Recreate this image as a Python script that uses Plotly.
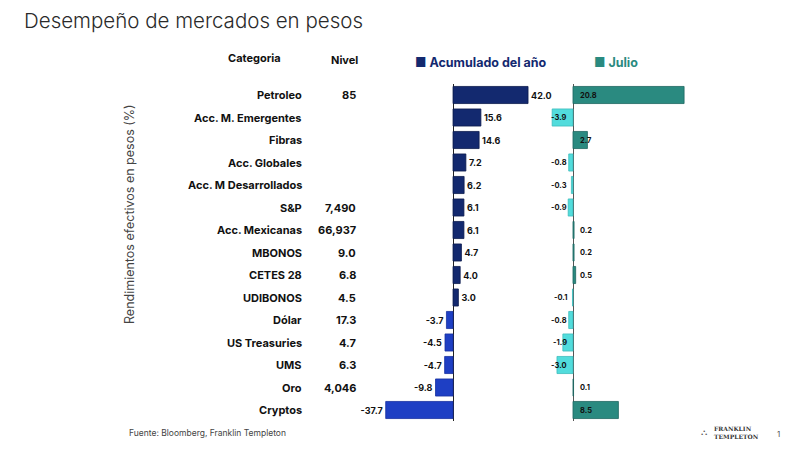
import plotly.graph_objects as go

categorias = ["Petroleo", "Acc. M. Emergentes", "Fibras", "Acc. Globales", "Acc. M Desarrollados",
              "S&P", "Acc. Mexicanas", "MBONOS", "CETES 28", "UDIBONOS", "Dólar",
              "US Treasuries", "UMS", "Oro", "Cryptos"]
nivel = ["85", "", "", "", "", "7,490", "66,937", "9.0", "6.8", "4.5", "17.3", "4.7", "6.3", "4,046", ""]
acumulado = [42.0, 15.6, 14.6, 7.2, 6.2, 6.1, 6.1, 4.7, 4.0, 3.0, -3.7, -4.5, -4.7, -9.8, -37.7]
julio = [20.8, -3.9, 2.7, -0.8, -0.3, -0.9, 0.2, 0.2, 0.5, -0.1, -0.8, -1.9, -3.0, 0.1, 8.5]

W, H = 800, 450
OFF = 8  # margen del body en la pagina
NAVY, BLUE = "#13296f", "#1e3fc4"
TEAL, CYAN = "#2a8a80", "#52dcdc"
FONT = "Inter"


def px(x):
    return (x - OFF) / W


def py(y):
    return 1 - (y - OFF) / H


y_dom = [py(421.25), py(83.75)]
fig = go.Figure()

fig.add_trace(go.Bar(
    x=acumulado, y=categorias, orientation="h", xaxis="x", yaxis="y",
    marker=dict(color=[NAVY if v >= 0 else BLUE for v in acumulado],
                line=dict(width=0.8, color=["#0b1a4d" if v >= 0 else "#1630a0" for v in acumulado])),
    width=0.76, text=[f"{v:.1f}" for v in acumulado], textposition="outside",
    textfont=dict(family=FONT, size=9, color="#111111", weight="bold"), cliponaxis=False,
))
fig.add_trace(go.Bar(
    x=julio, y=categorias, orientation="h", xaxis="x2", yaxis="y2",
    marker=dict(color=[TEAL if v >= 0 else CYAN for v in julio],
                line=dict(width=0.8, color=["#1d6660" if v >= 0 else "#3cbcbc" for v in julio])),
    width=0.76,
))

ann = []
# etiquetas de julio junto al eje cero
for c, v in zip(categorias, julio):
    ann.append(dict(x=0, y=c, xref="x2", yref="y2", text=f"{v:.1f}",
                    xanchor="left" if v >= 0 else "right", xshift=5 if v >= 0 else -4,
                    font=dict(family=FONT, size=7.5, color="#111111", weight="bold")))
# categorias y nivel
lab = dict(family=FONT, size=11, color="#111111", weight="bold")
for c, n in zip(categorias, nivel):
    ann.append(dict(x=px(304), y=c, xref="paper", yref="y", text=c, xanchor="right", font=lab))
    if n:
        ann.append(dict(x=px(358), y=c, xref="paper", yref="y", text=n, xanchor="right", font=lab))

ann += [
    dict(x=px(22), y=py(21), text="Desempeño de mercados en pesos", xanchor="left",
         font=dict(family=FONT, size=20.5, color="#2a2a2a", weight=300)),
    dict(x=px(254), y=py(58), text="Categoria", font=lab),
    dict(x=px(344), y=py(60), text="Nivel", font=lab),
    dict(x=px(413), y=py(62), text="■ Acumulado del año", xanchor="left",
         font=dict(family=FONT, size=12.5, color=NAVY, weight="bold")),
    dict(x=px(592), y=py(62), text="<span style='color:%s'>■</span> Julio" % TEAL, xanchor="left",
         font=dict(family=FONT, size=12.5, color=TEAL, weight="bold")),
    dict(x=px(129), y=py(214), text="Rendimientos efectivos en pesos (%)", textangle=-90,
         font=dict(family=FONT, size=12.5, color="#444444")),
    dict(x=px(127), y=py(433), text="Fuente: Bloomberg, Franklin Templeton", xanchor="left",
         font=dict(family=FONT, size=8.5, color="#444444")),
    dict(x=px(712), y=py(432), text="FRANKLIN<br>TEMPLETON", xanchor="left", align="left",
         font=dict(family="DejaVu Serif", size=6, color="#333333", weight="bold")),
    dict(x=px(699), y=py(432), text="⛬", xanchor="left",
         font=dict(family="DejaVu Sans", size=9, color="#555555")),
    dict(x=px(778), y=py(434), text="1", font=dict(family=FONT, size=8, color="#555555")),
]
for a in ann:
    a.setdefault("xref", "paper")
    a.setdefault("yref", "paper")
    a.setdefault("xanchor", "center")
    a.setdefault("yanchor", "middle")
    a["showarrow"] = False

fig.update_layout(
    width=W, height=H, margin=dict(l=0, r=0, t=0, b=0),
    paper_bgcolor="white", plot_bgcolor="rgba(0,0,0,0)", showlegend=False,
    bargap=0.24, annotations=ann,
    xaxis=dict(domain=[px(381.6), px(533.4)], range=[-40, 45], showgrid=False, showticklabels=False,
               zeroline=True, zerolinecolor="#222222", zerolinewidth=1, fixedrange=True),
    yaxis=dict(domain=y_dom, autorange="reversed", showticklabels=False, showgrid=False),
    xaxis2=dict(domain=[px(546.3), px(690.5)], range=[-5, 22], showgrid=False, showticklabels=False,
                zeroline=True, zerolinecolor="#555555", zerolinewidth=1, anchor="y2"),
    yaxis2=dict(domain=y_dom, autorange="reversed", showticklabels=False, showgrid=False,
                anchor="x2", matches="y"),
)

fig.write_html("out.html")
